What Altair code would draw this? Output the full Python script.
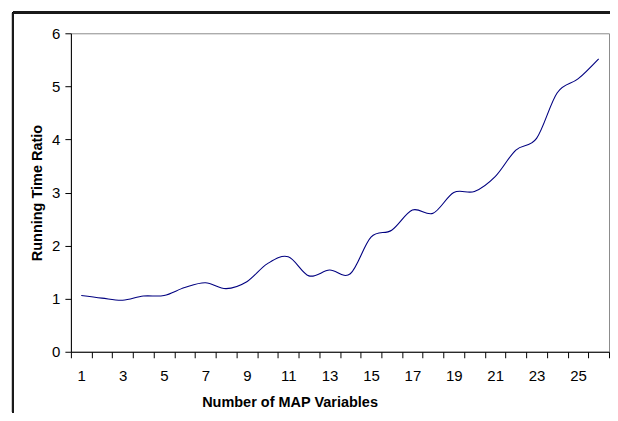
import altair as alt
import pandas as pd

variables = list(range(1, 27))
ratios = [1.06, 1.01, 0.97, 1.05, 1.06, 1.21, 1.30, 1.19, 1.32, 1.66,
          1.79, 1.43, 1.54, 1.47, 2.16, 2.29, 2.67, 2.61, 3.00, 3.02,
          3.30, 3.80, 4.02, 4.88, 5.14, 5.52]
y_ticks = [0, 1, 2, 3, 4, 5, 6]

df = pd.DataFrame({"n": variables, "ratio": ratios})

W, H = 539, 319
PAD_L, PAD_T, PAD_R, PAD_B = 63, 25, 1, 61

line = alt.Chart(df).mark_line(
    color="#000080", strokeWidth=1.1, interpolate="cardinal"
).encode(
    x=alt.X(
        "n:O",
        scale=alt.Scale(type="band", paddingInner=0, paddingOuter=0),
        axis=alt.Axis(
            title="Number of MAP Variables",
            labelAngle=0,
            tickBand="extent",
            labelExpr="datum.value % 2 == 1 ? datum.label : ''",
            labelPadding=11,
            tickSize=6,
            titleX=219,
            titleY=55,
            titleAnchor="middle",
            titleAlign="center",
            titleBaseline="alphabetic",
        ),
    ),
    y=alt.Y(
        "ratio:Q",
        scale=alt.Scale(domain=[0, 6], nice=False),
        axis=alt.Axis(
            title="Running Time Ratio",
            values=y_ticks,
            grid=False,
            tickSize=6,
            labelPadding=5,
            titleAngle=-90,
            titleX=-29,
            titleY=159.5,
            titleAlign="center",
            titleBaseline="alphabetic",
        ),
    ),
)

frame_left = alt.Chart(df).mark_rule(color="#1a1a1a", strokeWidth=2).encode(
    x=alt.value(-58), y=alt.value(-21), y2=alt.value(H + PAD_B)
)
frame_top = alt.Chart(df).mark_rule(color="#1a1a1a", strokeWidth=2).encode(
    x=alt.value(-58), x2=alt.value(W + PAD_R + 5), y=alt.value(-21)
)

chart = alt.layer(frame_left, frame_top, line).properties(
    width=W,
    height=H,
    autosize=alt.AutoSizeParams(type="none"),
    padding={"left": PAD_L, "top": PAD_T, "right": PAD_R, "bottom": PAD_B},
).configure(
    font="Liberation Sans",
).configure_view(
    stroke="#8c8c8c", strokeWidth=1
).configure_axis(
    domainColor="#000000",
    tickColor="#000000",
    domainWidth=1,
    tickWidth=1,
    labelFont="Liberation Sans",
    labelFontSize=15,
    labelColor="#000000",
    titleFont="Liberation Sans",
    titleFontSize=14.5,
    titleFontWeight="bold",
    titleColor="#000000",
)

chart.save("out.html", embed_options={"renderer": "svg", "actions": False})
